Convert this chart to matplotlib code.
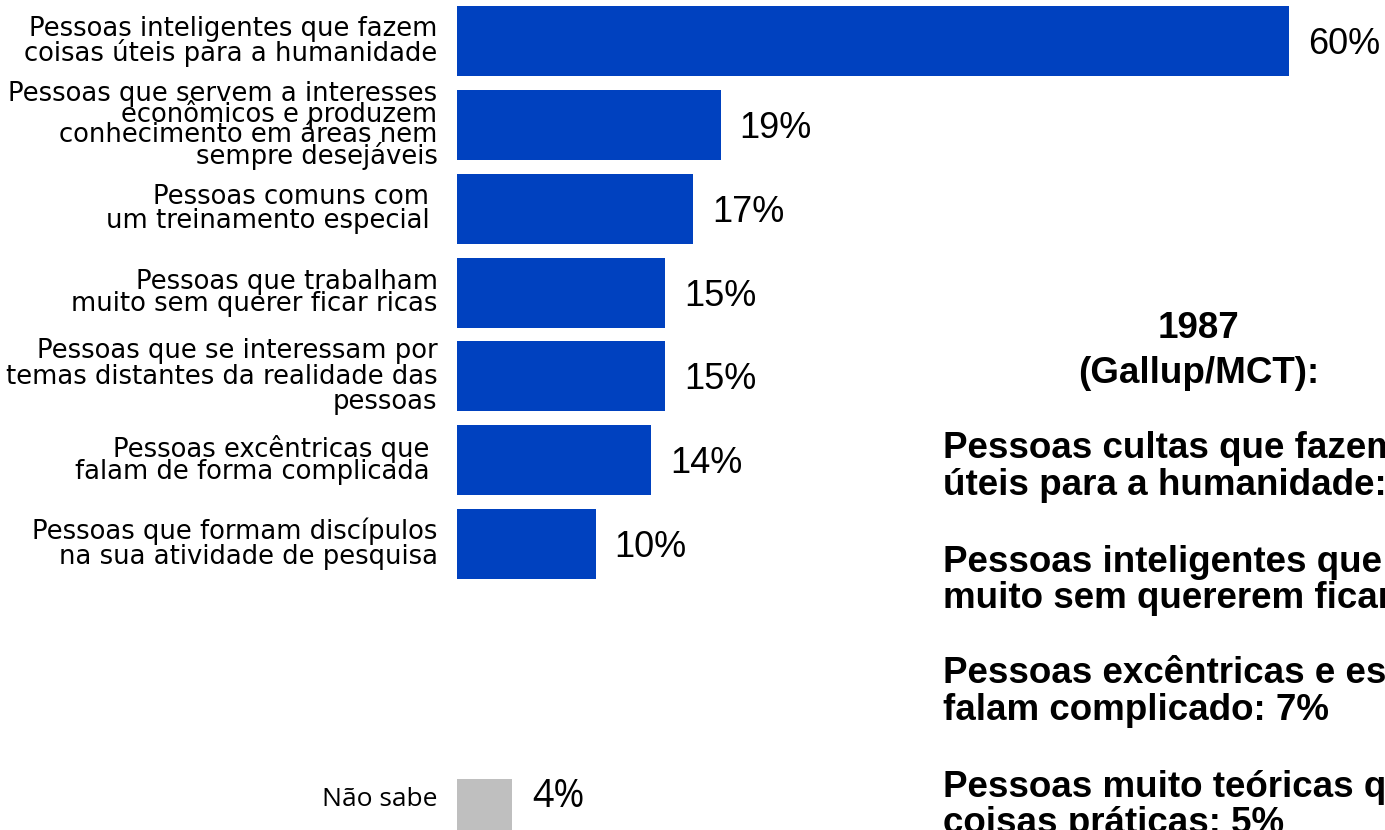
import matplotlib
matplotlib.use("Agg")
import matplotlib.pyplot as plt

# Dados (percentuais)
categorias = [
    "Pessoas inteligentes que fazem\ncoisas úteis para a humanidade",
    "Pessoas que servem a interesses\neconômicos e produzem\nconhecimento em áreas nem\nsempre desejáveis",
    "Pessoas comuns com \num treinamento especial ",
    "Pessoas que trabalham\nmuito sem querer ficar ricas",
    "Pessoas que se interessam por\ntemas distantes da realidade das\npessoas",
    "Pessoas excêntricas que \nfalam de forma complicada ",
    "Pessoas que formam discípulos\nna sua atividade de pesquisa",
]
valores = [60, 19, 17, 15, 15, 14, 10]
nao_sabe_rotulo = "Não sabe"
nao_sabe_valor = 4

titulo_1987 = ["1987", "(Gallup/MCT):"]
linhas_1987 = [
    "Pessoas cultas que fazem coisas",
    "úteis para a humanidade:",
    "Pessoas inteligentes que trabalham",
    "muito sem quererem ficar ricas:",
    "Pessoas excêntricas e estranhas que",
    "falam complicado: 7%",
    "Pessoas muito teóricas que não fazem",
    "coisas práticas: 5%",
]

# espaçamento entre linhas de cada rótulo (imita o original)
espacos = [0.86, 0.71, 0.9, 0.78, 0.97, 0.82, 0.97]

AZUL = "#0041BF"
CINZA = "#BFBFBF"
W, H = 1385, 830
PX_POR_PCT = 13.87
PASSO = 83.75

fig = plt.figure(figsize=(W / 100, H / 100), dpi=100)
x0 = 457
ax = fig.add_axes([x0 / W, 0, 1 - x0 / W, 1])
ax.set_xlim(0, (W - x0) / PX_POR_PCT)
topo = -41.5 / PASSO
ax.set_ylim((H - 41.5) / PASSO, topo)

pos = list(range(len(valores)))
altura = 70 / PASSO
ax.barh(pos, valores, height=altura, color=AZUL)

# barra "Não sabe"
pos_ns_barra = (779 - 41.5) / PASSO + altura / 2
pos_ns_texto = (797 - 41.5) / PASSO
ax.barh([pos_ns_barra], [nao_sabe_valor], height=altura, color=CINZA)

for p, v in zip(pos, valores):
    ax.text(v + 19 / PX_POR_PCT, p + 0.04, f"{v}%", va="center", ha="left",
            fontsize=26, family="Liberation Sans")
ax.text(nao_sabe_valor + 20 / PX_POR_PCT, pos_ns_texto, f"{nao_sabe_valor}%",
        va="center", ha="left", fontsize=27, family="Open Sans")

ax.set_yticks(pos + [pos_ns_texto])
ax.set_yticklabels(categorias + [nao_sabe_rotulo])
for i, lbl in enumerate(ax.get_yticklabels()):
    if i < len(categorias):
        lbl.set_linespacing(espacos[i])
        lbl.set_fontsize(18.6)
        lbl.set_family("DejaVu Sans")
        lbl.set_va("center")
    else:
        lbl.set_family("Open Sans")
        lbl.set_fontsize(19)
ax.tick_params(axis="y", length=0, pad=14)
ax.set_xticks([])
for s in ax.spines.values():
    s.set_visible(False)

# Texto da pesquisa de 1987
cx = 1199
fig.text(cx / W, 1 - 338 / H, titulo_1987[0], ha="center", va="baseline",
         fontsize=26.5, fontweight="bold", family="Liberation Sans")
fig.text(cx / W, 1 - 383 / H, titulo_1987[1], ha="center", va="baseline",
         fontsize=26.5, fontweight="bold", family="Liberation Sans")
bases = [458, 495, 572, 608, 683, 720, 797, 833]
for linha, b in zip(linhas_1987, bases):
    fig.text(943 / W, 1 - b / H, linha, ha="left", va="baseline",
             fontsize=26.5, fontweight="bold", family="Liberation Sans")

fig.savefig("out.png", dpi=100)
